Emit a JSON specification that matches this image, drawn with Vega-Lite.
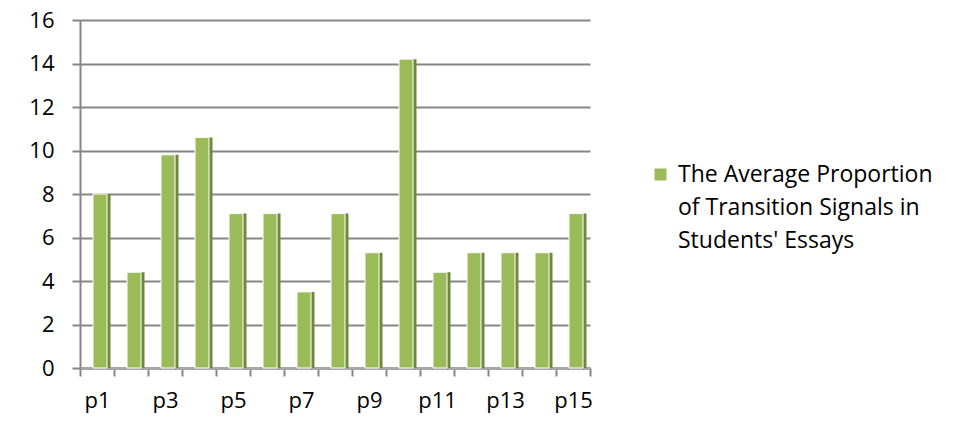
{
  "$schema": "https://vega.github.io/schema/vega-lite/v6.json",
  "width": 510,
  "height": 348,
  "autosize": {"type": "none"},
  "padding": {"left": 80, "top": 20, "right": 375, "bottom": 76},
  "background": "white",
  "data": {
    "values": [
      {"participant": "p1", "value": 8.0, "series": "The Average Proportion\nof Transition Signals in\nStudents' Essays"},
      {"participant": "p2", "value": 4.4, "series": "The Average Proportion\nof Transition Signals in\nStudents' Essays"},
      {"participant": "p3", "value": 9.8, "series": "The Average Proportion\nof Transition Signals in\nStudents' Essays"},
      {"participant": "p4", "value": 10.6, "series": "The Average Proportion\nof Transition Signals in\nStudents' Essays"},
      {"participant": "p5", "value": 7.1, "series": "The Average Proportion\nof Transition Signals in\nStudents' Essays"},
      {"participant": "p6", "value": 7.1, "series": "The Average Proportion\nof Transition Signals in\nStudents' Essays"},
      {"participant": "p7", "value": 3.5, "series": "The Average Proportion\nof Transition Signals in\nStudents' Essays"},
      {"participant": "p8", "value": 7.1, "series": "The Average Proportion\nof Transition Signals in\nStudents' Essays"},
      {"participant": "p9", "value": 5.3, "series": "The Average Proportion\nof Transition Signals in\nStudents' Essays"},
      {"participant": "p10", "value": 14.2, "series": "The Average Proportion\nof Transition Signals in\nStudents' Essays"},
      {"participant": "p11", "value": 4.4, "series": "The Average Proportion\nof Transition Signals in\nStudents' Essays"},
      {"participant": "p12", "value": 5.3, "series": "The Average Proportion\nof Transition Signals in\nStudents' Essays"},
      {"participant": "p13", "value": 5.3, "series": "The Average Proportion\nof Transition Signals in\nStudents' Essays"},
      {"participant": "p14", "value": 5.3, "series": "The Average Proportion\nof Transition Signals in\nStudents' Essays"},
      {"participant": "p15", "value": 7.1, "series": "The Average Proportion\nof Transition Signals in\nStudents' Essays"}
    ]
  },
  "encoding": {
    "x": {
      "field": "participant",
      "type": "nominal",
      "sort": null,
      "scale": {"paddingInner": 0, "paddingOuter": 0},
      "axis": {
        "title": null,
        "labelAngle": 0,
        "labelExpr": "indexof(['p1','p3','p5','p7','p9','p11','p13','p15'], datum.value) >= 0 ? datum.value : ''",
        "tickBand": "extent",
        "tickSize": 8,
        "tickColor": "#868686",
        "tickWidth": 2,
        "domainColor": "#A6A6A6",
        "domainWidth": 3,
        "labelPadding": 14,
        "labelFont": "Open Sans",
        "labelFontSize": 22,
        "labelColor": "#000000",
        "grid": false
      }
    },
    "y": {
      "field": "value",
      "type": "quantitative",
      "scale": {"domain": [0, 16]},
      "axis": {
        "title": null,
        "values": [0, 2, 4, 6, 8, 10, 12, 14, 16],
        "tickSize": 8,
        "tickColor": "#868686",
        "tickWidth": 2,
        "domainColor": "#868686",
        "domainWidth": 2,
        "labelPadding": 18,
        "labelFont": "Open Sans",
        "labelFontSize": 22,
        "labelColor": "#000000",
        "grid": true,
        "gridColor": "#868686",
        "gridWidth": 2
      }
    }
  },
  "layer": [
    {
      "mark": {"type": "bar", "width": 15, "xOffset": 6, "color": "#6E8A38"}
    },
    {
      "mark": {"type": "bar", "width": 14, "xOffset": 3, "stroke": "white", "strokeWidth": 1},
      "encoding": {
        "color": {
          "field": "series",
          "type": "nominal",
          "scale": {"range": ["#9BBB59"]},
          "legend": {
            "title": null,
            "orient": "none",
            "legendX": 569,
            "legendY": 143,
            "symbolType": "square",
            "symbolSize": 144,
            "symbolStrokeWidth": 0,
            "labelFont": "Open Sans",
            "labelFontSize": 23,
            "labelColor": "#000000",
            "labelLimit": 400,
            "labelOffset": 6
          }
        }
      }
    }
  ],
  "config": {
    "view": {"stroke": null},
    "style": {"guide-label": {"lineBreak": "\n", "lineHeight": 33}}
  }
}
